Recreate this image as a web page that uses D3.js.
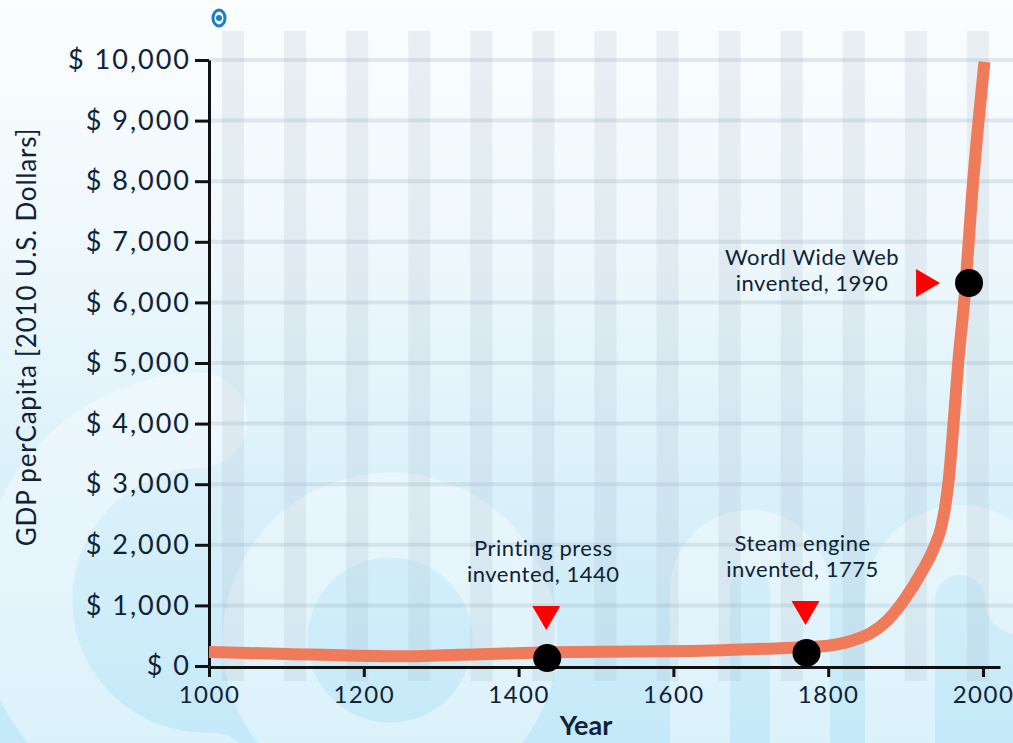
<!DOCTYPE html>
<html>
<head>
<meta charset="utf-8">
<script src="https://cdn.jsdelivr.net/npm/d3@7"></script>
<style>
  html, body { margin: 0; padding: 0; overflow: hidden; }
  body { width: 1013px; height: 743px; }
  text { font-family: Lato, "Open Sans", sans-serif; fill: #0f2238; }
</style>
</head>
<body>
<div id="wrapper"></div>
<script>
// GDP per capita over the last millennium
const years  = [1000, 1100, 1250, 1350, 1440, 1550, 1650, 1720, 1775, 1800, 1823, 1840, 1855, 1877, 1898, 1920, 1937, 1946, 1952, 1956, 1961, 1968, 1977, 1986, 2002]
const gdp    = [230, 200, 160, 195, 225, 240, 255, 285, 315, 335, 390, 460, 545, 760, 1090, 1535, 1960, 2290, 2700, 3100, 3845, 5000, 6200, 7800, 9970]

const yTicks      = [0, 1000, 2000, 3000, 4000, 5000, 6000, 7000, 8000, 9000, 10000]
const yTickLabels = ["$ 0", "$ 1,000", "$ 2,000", "$ 3,000", "$ 4,000", "$ 5,000", "$ 6,000", "$ 7,000", "$ 8,000", "$ 9,000", "$ 10,000"]
const xTicks      = [1000, 1200, 1400, 1600, 1800, 2000]

const eventNames  = ["printing", "steam", "www"]
const eventYears  = [1437, 1772, 1982]
const eventValues = [130, 215, 6320]
const eventLines  = [["Printing press", "invented, 1440"], ["Steam engine", "invented, 1775"], ["Wordl Wide Web", "invented, 1990"]]

const dataset = years.map((y, i) => ({ year: y, gdp: gdp[i] }))
const events = eventNames.map((n, i) => ({ name: n, year: eventYears[i], gdp: eventValues[i], lines: eventLines[i] }))

function drawChart() {
  const dimensions = {
    width: 1013,
    height: 743,
    margin: { top: 60, right: 13, bottom: 76, left: 209 },
  }
  dimensions.boundedWidth = dimensions.width - dimensions.margin.left - dimensions.margin.right
  dimensions.boundedHeight = dimensions.height - dimensions.margin.top - dimensions.margin.bottom

  const wrapper = d3.select("#wrapper").append("svg")
    .attr("width", dimensions.width)
    .attr("height", dimensions.height)

  // background
  const defs = wrapper.append("defs")
  const bg = defs.append("linearGradient").attr("id", "bg").attr("x1", 0).attr("y1", 0).attr("x2", 0).attr("y2", 1)
  bg.append("stop").attr("offset", "0%").attr("stop-color", "#fbfdfe")
  bg.append("stop").attr("offset", "35%").attr("stop-color", "#eef8fc")
  bg.append("stop").attr("offset", "100%").attr("stop-color", "#c4e9f8")
  wrapper.append("rect").attr("width", dimensions.width).attr("height", dimensions.height).attr("fill", "url(#bg)")

  // faint watermark letters
  const wm = wrapper.append("g").attr("fill", "none").attr("stroke", "#ffffff").attr("stroke-opacity", 0.4).attr("stroke-linecap", "round")
  wm.append("path").attr("d", "M 200 420 A 175 175 0 1 0 210 780").attr("stroke-width", 95)
  wm.append("circle").attr("cx", 390).attr("cy", 640).attr("r", 125).attr("stroke-width", 85)
  wm.append("path").attr("d", "M 700 760 L 700 590 A 50 50 0 0 1 800 590 L 800 760").attr("stroke-width", 60)
  wm.append("path").attr("d", "M 900 760 L 900 600 A 60 60 0 0 1 1020 600").attr("stroke-width", 70)

  const bounds = wrapper.append("g")
    .attr("transform", `translate(${dimensions.margin.left}, ${dimensions.margin.top})`)

  const xScale = d3.scaleLinear()
    .domain([1000, 2022])
    .range([0, 791])
  const yScale = d3.scaleLinear()
    .domain([0, 10000])
    .range([606, 0])

  // vertical decorative stripes (every 80 years)
  const stripeYears = d3.range(1031, 2020, 80.2)
  bounds.append("g").selectAll("rect")
    .data(stripeYears)
    .join("rect")
      .attr("x", d => xScale(d) - 11)
      .attr("y", -29)
      .attr("width", 22)
      .attr("height", 650)
      .attr("fill", "#9fb4c2")
      .attr("fill-opacity", 0.18)

  // horizontal grid
  bounds.append("g").selectAll("line")
    .data(yTicks.slice(1))
    .join("line")
      .attr("x1", 0)
      .attr("x2", dimensions.width)
      .attr("y1", d => yScale(d))
      .attr("y2", d => yScale(d))
      .attr("stroke", "#9fb4c2")
      .attr("stroke-opacity", 0.28)
      .attr("stroke-width", 4)

  // axes
  const yAxis = bounds.append("g")
    .call(d3.axisLeft(yScale)
      .tickValues(yTicks)
      .tickFormat((d, i) => yTickLabels[i])
      .tickSize(14)
      .tickSizeOuter(0)
      .tickPadding(4))
  yAxis.select(".domain").attr("stroke", "#111").attr("stroke-width", 3)
  yAxis.selectAll(".tick line").attr("stroke", "#111").attr("stroke-width", 3)
  yAxis.selectAll(".tick text")
    .attr("fill", "#0f2238")
    .style("font-size", "27px")
    .style("letter-spacing", "2px")
    .style("font-family", "Lato, sans-serif")

  const xAxis = bounds.append("g")
    .attr("transform", `translate(0, ${yScale(0) + 1})`)
    .call(d3.axisBottom(xScale)
      .tickValues(xTicks)
      .tickFormat(d3.format("d"))
      .tickSize(10)
      .tickSizeOuter(0)
      .tickPadding(9))
  xAxis.select(".domain").attr("stroke", "#111").attr("stroke-width", 3)
  xAxis.selectAll(".tick line").attr("stroke", "#111").attr("stroke-width", 3)
  xAxis.selectAll(".tick text")
    .attr("fill", "#0f2238")
    .style("font-size", "24px")
    .style("letter-spacing", "1.5px")
    .style("font-family", "Lato, sans-serif")

  // line
  const lineGenerator = d3.line()
    .x(d => xScale(d.year))
    .y(d => yScale(d.gdp))
    .curve(d3.curveMonotoneX)

  bounds.append("path")
    .datum(dataset)
    .attr("d", lineGenerator)
    .attr("fill", "none")
    .attr("stroke", "#f07b5b")
    .attr("stroke-width", 12)

  // event markers
  const ev = bounds.append("g").selectAll("g")
    .data(events)
    .join("g")
      .attr("transform", d => `translate(${xScale(d.year)}, ${yScale(d.gdp)})`)

  ev.append("circle")
    .attr("r", 14)
    .attr("fill", "#000")

  ev.append("path")
    .attr("d", d => d.name === "www"
      ? "M -53 -14 L -29 0 L -53 14 Z"
      : "M -15 -52 L 13 -52 L -1 -28 Z")
    .attr("fill", "#ff0000")

  ev.each(function(d) {
    const g = d3.select(this)
    const base = d.name === "www" ? [-157, -18] : [-4, -102]
    d.lines.forEach((t, i) => {
      g.append("text")
        .attr("x", base[0])
        .attr("y", base[1] + i * 26)
        .attr("text-anchor", "middle")
        .style("font-size", "22px")
        .style("letter-spacing", "0.5px")
        .text(t)
    })
  })

  // axis titles
  wrapper.append("text")
    .attr("x", 586)
    .attr("y", 735)
    .attr("text-anchor", "middle")
    .style("font-size", "27px")
    .style("font-weight", 700)
    .text("Year")

  wrapper.append("text")
    .attr("transform", "translate(36, 337) rotate(-90)")
    .attr("text-anchor", "middle")
    .style("font-size", "26px")
    .style("letter-spacing", "0.8px")
    .text("GDP perCapita [2010 U.S. Dollars]")

  // small logo
  const logo = wrapper.append("g").attr("transform", "translate(219, 18)")
  logo.append("ellipse").attr("rx", 6).attr("ry", 8).attr("fill", "none").attr("stroke", "#1a7fc3").attr("stroke-width", 3)
  logo.append("circle").attr("r", 3).attr("fill", "#1a7fc3")
}

drawChart()
</script>
</body>
</html>
